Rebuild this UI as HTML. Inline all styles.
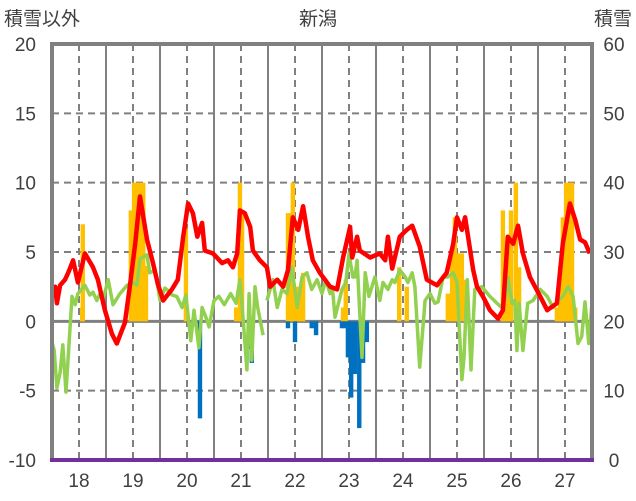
<!DOCTYPE html>
<html><head><meta charset="utf-8">
<style>
body{margin:0;background:#fff;}
svg{display:block;font-family:"Liberation Sans","Noto Sans CJK JP",sans-serif;}
</style></head>
<body>
<svg id="chart" width="636" height="501" viewBox="0 0 636 501" xmlns="http://www.w3.org/2000/svg">
<text x="318" y="25" text-anchor="middle" font-size="19" fill="#404040">新潟</text>
<text x="4" y="25" font-size="19" fill="#404040">積雪以外</text>
<text x="632" y="25" text-anchor="end" font-size="19" fill="#404040">積雪</text>
<g id="grid"></g>
<g id="bars"></g>
<g id="lines"></g>
<g id="axes"></g>
</svg>
<script>
const leftTicks=[-10,-5,0,5,10,15,20];
const rightTicks=[0,10,20,30,40,50,60];
const years=[18,19,20,21,22,23,24,25,26,27];
const redT=[17.5,17.56,17.59,17.65,17.74,17.80,17.89,17.98,18.11,18.26,18.35,18.48,18.61,18.70,18.85,18.94,19.04,19.13,19.26,19.37,19.46,19.56,19.72,19.83,19.93,20.02,20.11,20.19,20.28,20.33,20.48,20.65,20.76,20.85,20.93,20.98,21.07,21.17,21.22,21.35,21.48,21.54,21.67,21.78,21.87,21.96,22.06,22.15,22.24,22.33,22.46,22.65,22.78,22.89,23.02,23.06,23.15,23.20,23.39,23.57,23.67,23.72,23.80,23.94,24.07,24.17,24.31,24.44,24.63,24.81,24.93,25.00,25.09,25.15,25.30,25.37,25.48,25.61,25.76,25.85,25.94,26.04,26.13,26.22,26.35,26.54,26.67,26.85,26.96,27.09,27.19,27.28,27.37,27.46];
const redV=[2.3,2.5,1.3,2.6,3.0,3.5,4.4,2.8,4.9,3.9,3.0,0.8,-0.9,-1.6,-0.1,2.5,5.6,9.0,5.9,4.2,2.7,1.5,2.3,3.0,6.1,8.5,7.8,6.1,7.1,5.1,4.9,4.2,4.4,3.9,4.9,8.0,7.8,6.8,5.1,4.4,3.9,2.5,3.0,2.5,3.7,7.5,6.6,8.3,6.1,4.4,3.5,2.5,2.3,4.6,6.8,4.6,6.1,5.1,4.6,4.9,4.4,6.1,3.8,6.1,6.6,6.9,5.4,3.0,2.6,3.5,5.6,7.5,6.6,7.5,3.7,2.5,1.8,0.8,0.2,0.8,6.1,5.6,6.9,4.9,3.2,1.8,0.8,1.3,5.6,8.5,7.3,5.9,5.7,4.9];
const greenT=[17.5,17.54,17.59,17.65,17.70,17.76,17.87,17.93,17.98,18.11,18.20,18.26,18.33,18.39,18.44,18.54,18.63,18.76,18.89,19.0,19.07,19.13,19.26,19.31,19.41,19.50,19.59,19.69,19.72,19.81,19.91,19.98,20.07,20.13,20.22,20.28,20.35,20.41,20.50,20.59,20.69,20.81,20.91,20.98,21.04,21.11,21.15,21.20,21.26,21.31,21.41,null,21.48,21.59,21.67,21.76,21.85,21.94,22.04,22.13,22.22,22.31,22.41,22.50,22.57,22.65,22.69,22.74,22.87,22.94,23.00,23.07,23.11,23.15,23.24,23.30,23.37,23.48,23.57,23.63,23.72,23.80,23.85,23.94,24.04,24.09,24.17,24.22,24.31,24.41,24.50,24.59,24.65,24.74,24.83,24.93,25.0,25.09,25.13,25.19,25.26,25.33,25.46,25.61,25.74,25.83,25.89,25.94,26.02,26.07,26.11,26.15,26.22,26.31,26.41,26.54,26.67,26.78,26.87,26.96,27.06,27.15,27.24,27.31,27.37,27.44,27.5];
const greenV=[-1.5,-2.1,-4.8,-3.7,-1.7,-5.1,1.8,1.2,2.0,2.6,1.9,2.1,1.5,2.0,1.5,3.0,1.2,2.0,2.6,2.8,2.6,4.5,4.8,3.5,3.7,1.5,2.4,2.1,1.9,1.8,1.0,1.9,-1.4,0.8,-1.9,1.0,0.3,-0.4,1.5,1.8,1.2,2.0,1.3,3.0,0.1,-3.5,2.0,-2.8,2.5,1.0,-1.0,null,1.5,3.0,1.0,2.3,2.0,3.9,1.0,3.2,3.5,2.3,3.0,2.0,3.0,2.0,2.5,0.3,2.3,2.8,4.9,3.2,3.2,4.4,-2.6,3.5,1.8,3.2,1.5,2.8,2.3,3.0,2.8,3.7,3.2,2.8,3.5,2.5,-3.3,1.5,2.0,1.3,1.4,3.2,3.2,3.5,2.8,-4.2,-2.6,3.0,-3.5,2.3,2.5,1.8,1.3,1.0,1.5,3.2,1.3,1.5,-2.1,1.3,-2.1,1.3,1.5,2.3,1.8,1.0,1.5,1.8,2.5,1.8,-1.6,-1.1,1.4,-1.6,1.4,1.5];
const barT=[18.06,18.07,18.96,19.02,19.07,19.13,19.19,19.24,19.98,20.91,20.98,21.02,21.87,21.93,21.96,22.04,22.09,22.15,22.89,22.94,23.93,24.07,24.83,24.91,24.96,25.02,25.09,25.15,25.85,25.93,26.00,26.09,26.15,26.85,26.91,26.96,27.02,27.07,27.13,27.19,20.24,21.17,21.20,21.87,22.00,22.31,22.39,22.87,22.93,22.98,23.04,23.11,23.19,23.26,23.33];
const barV=[1,7,8,10,10,10,10,4,6.7,1,10,8,7.8,7.8,10,2.5,2.5,3.5,1,3,3.9,2.5,2,5,7.5,4.9,4.9,3,8,5.5,8,10,3.9,1,4,7.5,10,10,10,1,-7,-2,-3,-0.5,-1.5,-0.5,-1,-0.5,-0.5,-2.6,-5.5,-3.8,-7.7,-3,-1.5];

const L=52,R=592,T=44,B=460,NS="http://www.w3.org/2000/svg";
const xS=t=>L+(t-17.5)/10*(R-L);
const yL=v=>B-(v+10)/30*(B-T);
const yR=v=>B-v/60*(B-T);
function mk(tag,attrs,parent){const e=document.createElementNS(NS,tag);for(const k in attrs)e.setAttribute(k,attrs[k]);document.getElementById(parent).appendChild(e);return e;}

leftTicks.forEach(v=>{
  if(v===-10||v===20)return;
  const e=mk('line',{x1:L,x2:R,y1:yL(v),y2:yL(v),stroke:'#808080','stroke-width':v===0?3:2,'stroke-dasharray':v===0?'none':'7,5'},'grid');
  
  
});
years.forEach(y=>{
  const e=mk('line',{x1:xS(y),x2:xS(y),y1:T,y2:B,stroke:'#808080','stroke-width':2,'stroke-dasharray':'7,5'},'grid');
  
  
  if(y<27){const s=mk('line',{x1:xS(y+0.5),x2:xS(y+0.5),y1:T,y2:B,stroke:'#808080','stroke-width':2},'grid');
  
  }
  const t=mk('text',{x:xS(y),y:487,'text-anchor':'middle','font-size':19,fill:'#404040'},'axes');
  t.textContent=y;
  
  
});
barT.forEach((t,i)=>{
  const v=barV[i];const y0=yL(0),y1=yL(v);
  const e=mk('rect',{x:xS(t)-2.2,width:4.4,y:Math.min(y0,y1),height:Math.abs(y1-y0),fill:v>=0?'#FFC000':'#0070C0'},'bars');
  
  
});
function path(ts,vs){let d='',pen=false;ts.forEach((t,i)=>{if(t===null||vs[i]===null){pen=false;return;}d+=(pen?'L':'M')+xS(t).toFixed(1)+','+yL(vs[i]).toFixed(1);pen=true;});return d;}
const g=mk('path',{d:path(greenT,greenV),fill:'none',stroke:'#92D050','stroke-width':3.5,'stroke-linejoin':'round'},'lines');


const r=mk('path',{d:path(redT,redV),fill:'none',stroke:'#FF0000','stroke-width':4.5,'stroke-linejoin':'round'},'lines');


const f=mk('path',{d:`M${L},${B}L${L},${T}L${R},${T}L${R},${B}`,fill:'none',stroke:'#808080','stroke-width':4},'axes');


const bl=mk('line',{x1:L-2,x2:R+2,y1:B,y2:B,stroke:'#7030A0','stroke-width':4},'axes');


leftTicks.forEach(v=>{
  const t=mk('text',{x:36,y:yL(v)+7,'text-anchor':'end','font-size':19,fill:'#404040'},'axes');
  t.textContent=v;
  
  
});
rightTicks.forEach(v=>{
  const t=mk('text',{x:614,y:yR(v)+7,'text-anchor':'middle','font-size':19,fill:'#404040'},'axes');
  t.textContent=v;
  
  
});
</script>
</body></html>
